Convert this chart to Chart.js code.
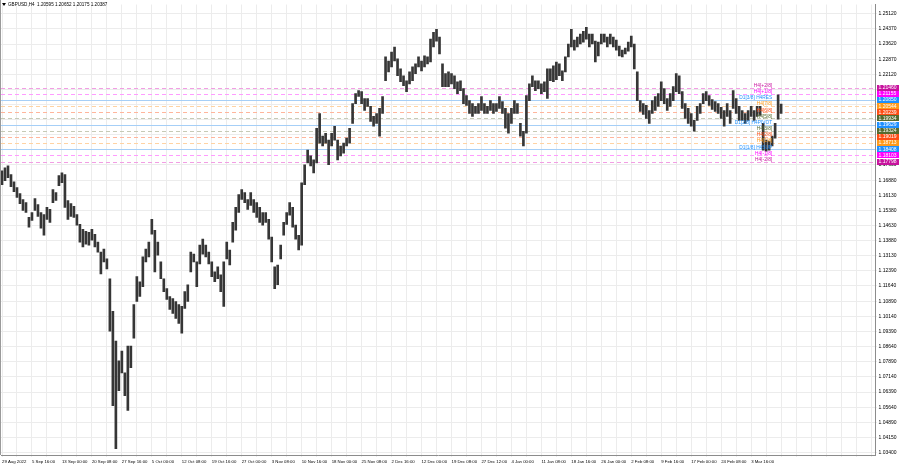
<!DOCTYPE html>
<html>
<head>
<meta charset="utf-8">
<script src="https://cdn.jsdelivr.net/npm/chart.js"></script>
<style>
  html, body { margin: 0; padding: 0; background: #fff; }
</style>
</head>
<body>
<canvas id="myChart" width="900" height="468"></canvas>
<script>
var symbol = "GBPUSD,H4";
var lastBar = [1.20595, 1.20652, 1.20175, 1.20387]; // open high low close

var dateLabels = ["29 Aug 2022", "5 Sep 16:00", "13 Sep 00:00", "20 Sep 08:00", "27 Sep 16:00",
  "5 Oct 00:00", "12 Oct 08:00", "19 Oct 16:00", "27 Oct 00:00", "3 Nov 08:00", "10 Nov 16:00",
  "18 Nov 00:00", "25 Nov 08:00", "2 Dec 16:00", "12 Dec 00:00", "19 Dec 08:00", "27 Dec 12:00",
  "4 Jan 00:00", "11 Jan 08:00", "18 Jan 16:00", "26 Jan 00:00", "2 Feb 08:00", "9 Feb 16:00",
  "17 Feb 00:00", "24 Feb 08:00", "3 Mar 16:00"];

// high / low of each group of bars
var highs = [
  1.1734,1.1749,1.1759,1.1715,1.1680,1.1651,1.1621,1.1592,1.1577,1.1504,
  1.1528,1.1597,1.1567,1.1528,1.1518,1.1553,1.1543,1.1641,1.1626,1.1710,
  1.1724,1.1715,1.1587,1.1572,1.1558,1.1518,1.1469,1.1445,1.1435,1.1430,
  1.1445,1.1420,1.1381,1.1332,1.1347,1.1298,1.1200,1.1038,1.0891,1.0793,
  1.0842,1.0734,1.0866,1.0866,1.1072,1.1210,1.1185,1.1308,1.1347,1.1381,
  1.1494,1.1440,1.1381,1.1283,1.1200,1.1151,1.1112,1.1102,1.1087,1.1072,
  1.1063,1.1136,1.1170,1.1332,1.1322,1.1283,1.1366,1.1396,1.1366,1.1332,
  1.1283,1.1234,1.1259,1.1219,1.1283,1.1381,1.1342,1.1479,1.1553,1.1616,
  1.1641,1.1626,1.1592,1.1626,1.1592,1.1577,1.1553,1.1528,1.1528,1.1494,
  1.1406,1.1259,1.1268,1.1366,1.1479,1.1528,1.1577,1.1553,1.1465,1.1415,
  1.1675,1.1764,1.1837,1.1808,1.1788,1.1945,1.2018,1.1906,1.1920,1.1886,
  1.1920,1.1955,1.1886,1.1857,1.1871,1.1896,1.1945,1.2067,1.2116,1.2131,
  1.2126,1.2092,1.2092,1.2053,1.2004,1.2018,1.2043,1.2102,1.2298,1.2278,
  1.2322,1.2347,1.2288,1.2239,1.2205,1.2180,1.2224,1.2249,1.2264,1.2298,
  1.2278,1.2303,1.2298,1.2386,1.2420,1.2435,1.2396,1.2264,1.2215,1.2224,
  1.2215,1.2205,1.2175,1.2180,1.2141,1.2107,1.2082,1.2067,1.2053,1.2067,
  1.2102,1.2067,1.2053,1.2082,1.2067,1.2067,1.2102,1.2077,1.2043,1.2018,
  1.2043,1.2082,1.2067,1.1969,1.1930,1.2107,1.2165,1.2205,1.2180,1.2180,
  1.2165,1.2175,1.2239,1.2239,1.2254,1.2273,1.2264,1.2229,1.2298,1.2362,
  1.2435,1.2381,1.2396,1.2411,1.2425,1.2445,1.2411,1.2411,1.2376,1.2371,
  1.2411,1.2411,1.2396,1.2411,1.2396,1.2381,1.2352,1.2332,1.2342,1.2371,
  1.2401,1.2362,1.2224,1.2082,1.2067,1.2058,1.2033,1.2082,1.2102,1.2116,
  1.2175,1.2141,1.2092,1.2116,1.2151,1.2215,1.2205,1.2126,1.2067,1.2043,
  1.2018,1.1984,1.2053,1.2067,1.2116,1.2126,1.2107,1.2087,1.2077,1.2067,
  1.2048,1.2033,1.2067,1.2033,1.2131,1.2092,1.2053,1.2033,1.2018,1.2033,
  1.2053,1.2033,1.2053,1.2053,1.1969,1.1886,1.1881,1.1906,1.1969,1.2111,
  1.2065
];
var lows = [
  1.1665,1.1685,1.1700,1.1656,1.1631,1.1602,1.1572,1.1538,1.1528,1.1455,
  1.1489,1.1538,1.1509,1.1450,1.1415,1.1494,1.1479,1.1577,1.1587,1.1661,
  1.1675,1.1553,1.1494,1.1509,1.1504,1.1465,1.1381,1.1357,1.1371,1.1366,
  1.1391,1.1357,1.1332,1.1224,1.1283,1.1249,1.0940,1.0572,1.0358,1.0646,
  1.0734,1.0621,1.0548,1.0759,1.0906,1.1087,1.1112,1.1161,1.1283,1.1308,
  1.1420,1.1234,1.1317,1.1200,1.1136,1.1097,1.1048,1.1028,1.1004,1.0979,
  1.0930,1.1053,1.1087,1.1234,1.1283,1.1161,1.1273,1.1322,1.1308,1.1273,
  1.1210,1.1185,1.1200,1.1136,1.1063,1.1298,1.1268,1.1381,1.1440,1.1528,
  1.1592,1.1577,1.1543,1.1563,1.1528,1.1504,1.1479,1.1465,1.1479,1.1396,
  1.1283,1.1151,1.1170,1.1298,1.1415,1.1469,1.1514,1.1455,1.1396,1.1342,
  1.1366,1.1665,1.1773,1.1759,1.1724,1.1773,1.1871,1.1857,1.1871,1.1764,
  1.1857,1.1886,1.1788,1.1808,1.1822,1.1857,1.1871,1.1969,1.2067,1.2102,
  1.2067,1.2033,1.2053,1.1979,1.1955,1.1969,1.1906,1.2018,1.2180,1.2224,
  1.2249,1.2278,1.2205,1.2175,1.2156,1.2126,1.2165,1.2180,1.2215,1.2249,
  1.2229,1.2249,1.2264,1.2273,1.2347,1.2376,1.2313,1.2151,1.2151,1.2151,
  1.2165,1.2141,1.2116,1.2131,1.2067,1.2058,1.2018,1.2004,1.2018,1.2018,
  1.2033,1.2018,1.2018,1.2033,1.2018,1.2028,1.2043,1.2018,1.1945,1.1920,
  1.1969,1.2018,1.2018,1.1906,1.1857,1.1920,1.2082,1.2151,1.2131,1.2141,
  1.2116,1.2126,1.2092,1.2180,1.2175,1.2185,1.2205,1.2180,1.2224,1.2298,
  1.2347,1.2332,1.2347,1.2362,1.2371,1.2386,1.2347,1.2362,1.2273,1.2303,
  1.2362,1.2371,1.2347,1.2362,1.2347,1.2332,1.2303,1.2298,1.2313,1.2327,
  1.2347,1.2239,1.2082,1.2028,1.2014,1.1994,1.1969,1.2018,1.2033,1.2053,
  1.2082,1.2067,1.2033,1.2053,1.2082,1.2126,1.2116,1.2043,1.1994,1.1969,
  1.1955,1.1930,1.1984,1.2018,1.2067,1.2082,1.2058,1.2038,1.2028,1.2018,
  1.1994,1.1955,1.2004,1.1969,1.2043,1.2018,1.1984,1.1984,1.1969,1.1984,
  1.2004,1.1984,1.2004,1.2009,1.1837,1.1832,1.1837,1.1857,1.1896,1.1990,
  1.2018
];

var priceTicks = [1.25120, 1.24370, 1.23620, 1.22870, 1.22120, 1.21380, 1.20630, 1.19880,
  1.19130, 1.18380, 1.17630, 1.16880, 1.16130, 1.15380, 1.14630, 1.13880, 1.13130, 1.12390,
  1.11640, 1.10890, 1.10140, 1.09390, 1.08640, 1.07890, 1.07140, 1.06390, 1.05640, 1.04890,
  1.04150, 1.03400];

var levelValues = [1.21460, 1.21155, 1.20850, 1.20544, 1.20239, 1.19934, 1.19629, 1.19324,
  1.19019, 1.18713, 1.18408, 1.18103, 1.17798];
var levelNames = ["H4[+2/8]", "H4[+1/8]", "D1[3/8] H4RES", "H4[7/8]", "H4[6/8]", "H4[5/8]",
  "D1[2/8] H4PIVOT", "H4[3/8]", "H4[2/8]", "H4[1/8]", "D1[1/8] H4SUP", "H4[-1/8]", "H4[-2/8]"];

// look of each level: label colour, line colour, dashed or not
var LEVEL_STYLE = [
  { color: '#c8139e', line: '#f29ee4', dash: true },
  { color: '#ff00ff', line: '#ff9cff', dash: true },
  { color: '#1e90ff', line: '#a6cff7', dash: false },
  { color: '#ff9a1a', line: '#ffd3a3', dash: true },
  { color: '#ff4d14', line: '#ffb59c', dash: true },
  { color: '#566b2f', line: '#c6cab6', dash: true },
  { color: '#1e90ff', line: '#a6cff7', dash: false },
  { color: '#566b2f', line: '#c6cab6', dash: true },
  { color: '#ff4d14', line: '#ffb59c', dash: true },
  { color: '#ff9a1a', line: '#ffd3a3', dash: true },
  { color: '#1e90ff', line: '#a6cff7', dash: false },
  { color: '#ff00ff', line: '#ff9cff', dash: true },
  { color: '#c8139e', line: '#f29ee4', dash: true }
];

var FONT = '"Liberation Sans", Arial, sans-serif';

var levelsPlugin = {
  id: 'levels',
  beforeDatasetsDraw: function(chart) {
    var ctx = chart.ctx, area = chart.chartArea, ys = chart.scales.y;
    ctx.save();
    ctx.lineWidth = 1;
    levelValues.forEach(function(v, i) {
      var y = Math.round(ys.getPixelForValue(v)) + 0.5;
      ctx.strokeStyle = LEVEL_STYLE[i].line;
      ctx.setLineDash(LEVEL_STYLE[i].dash ? [4, 3] : []);
      ctx.beginPath();
      ctx.moveTo(area.left, y);
      ctx.lineTo(area.right, y);
      ctx.stroke();
    });
    ctx.restore();
  },
  afterDraw: function(chart) {
    var ctx = chart.ctx, area = chart.chartArea, ys = chart.scales.y, xs = chart.scales.x;
    ctx.save();
    // left frame edge
    ctx.strokeStyle = '#9a9a9a';
    ctx.beginPath(); ctx.moveTo(0.5, 0); ctx.lineTo(0.5, area.bottom); ctx.stroke();

    ctx.textBaseline = 'middle';
    var tx = xs.getPixelForValue(highs.length - 4);
    levelValues.forEach(function(v, i) {
      var y = ys.getPixelForValue(v);
      var st = LEVEL_STYLE[i];
      ctx.font = '4.8px ' + FONT;
      ctx.fillStyle = st.color;
      ctx.textAlign = 'right';
      ctx.fillText(levelNames[i], tx, y - 2);
      ctx.fillRect(area.right + 2, Math.round(y) - 3, 22, 6);
      ctx.fillStyle = '#ffffff';
      ctx.textAlign = 'left';
      ctx.font = '5px ' + FONT;
      ctx.fillText(v.toFixed(5), area.right + 3.5, y);
    });

    // header
    ctx.fillStyle = '#000';
    ctx.beginPath();
    ctx.moveTo(2, 3); ctx.lineTo(6, 3); ctx.lineTo(4, 6); ctx.closePath(); ctx.fill();
    ctx.font = '4.6px ' + FONT;
    ctx.textAlign = 'left';
    ctx.fillText(symbol + '  ' + lastBar.map(function(v) { return v.toFixed(5); }).join(' '), 8, 5);
    ctx.restore();
  }
};

new Chart("myChart", {
  type: "bar",
  data: {
    datasets: [{
      data: highs.map(function(h, i) { return { x: i, y: [lows[i], h] }; }),
      backgroundColor: '#363636',
      barThickness: 2,
      borderWidth: 0
    }]
  },
  options: {
    responsive: false,
    animation: false,
    devicePixelRatio: 1,
    layout: { padding: 0 },
    plugins: { legend: { display: false }, tooltip: { enabled: false } },
    scales: {
      x: {
        type: 'linear',
        min: -1 / 3,
        max: 291.33,
        offset: false,
        grid: { color: '#ececec', offset: false, tickLength: 2 },
        border: { color: '#8c8c8c' },
        afterBuildTicks: function(scale) {
          var t = [];
          for (var v = 0; v <= 290; v += 5) t.push({ value: v });
          scale.ticks = t;
        },
        afterFit: function(scale) { scale.height = 13; },
        ticks: {
          autoSkip: false,
          maxRotation: 0,
          align: 'start',
          padding: 2,
          color: '#000',
          font: { family: FONT, size: 4.3 },
          callback: function(value) {
            if (value % 10 === 0 && value / 10 < dateLabels.length) return dateLabels[value / 10];
            return '';
          }
        }
      },
      y: {
        position: 'right',
        min: 1.03272,
        max: 1.25576,
        grid: { color: '#ececec', tickLength: 2 },
        border: { color: '#8c8c8c' },
        afterBuildTicks: function(scale) {
          scale.ticks = priceTicks.map(function(v) { return { value: v }; });
        },
        afterFit: function(scale) { scale.width = 25; },
        ticks: {
          padding: 1.5,
          color: '#000',
          font: { family: FONT, size: 5 },
          callback: function(value) { return value.toFixed(5); }
        }
      }
    }
  },
  plugins: [levelsPlugin]
});
</script>
</body>
</html>
